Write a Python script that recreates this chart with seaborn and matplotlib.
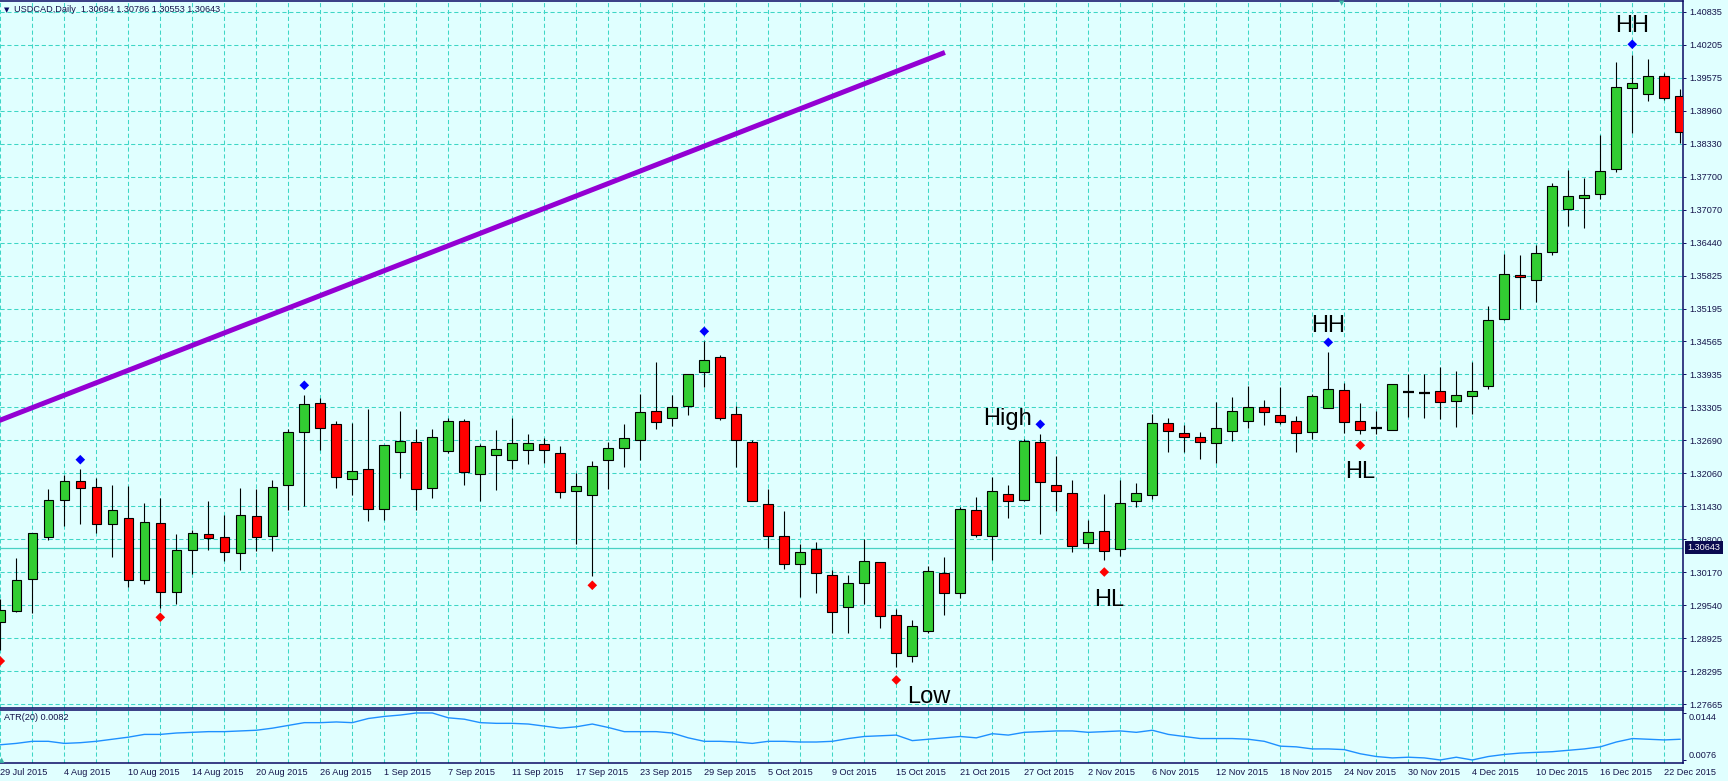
import matplotlib
matplotlib.use("Agg")
import matplotlib.pyplot as plt
import matplotlib.transforms as mtransforms
import numpy as np
import pandas as pd
import seaborn as sns

# USDCAD daily bars, 29 Jul 2015 .. 23 Dec 2015
opens = [
    1.29224, 1.29445, 1.30042, 1.30852, 1.31555, 1.31905, 1.31791, 1.31087, 1.31202, 1.30023,
    1.31107, 1.29794, 1.30593, 1.30897, 1.30840, 1.30536, 1.31240, 1.30859, 1.31829, 1.32848,
    1.33388, 1.32989, 1.31954, 1.32133, 1.31384, 1.32468, 1.32647, 1.31783, 1.32487, 1.33046,
    1.32050, 1.32411, 1.32316, 1.32506, 1.32609, 1.32438, 1.31715, 1.31639, 1.32304, 1.32533,
    1.32685, 1.33236, 1.33103, 1.33343, 1.33978, 1.34263, 1.33179, 1.32647, 1.31468, 1.30859,
    1.30327, 1.30612, 1.30118, 1.29509, 1.29966, 1.30365, 1.29357, 1.28583, 1.29053, 1.30156,
    1.29775, 1.31354, 1.30859, 1.31658, 1.31544, 1.32647, 1.31829, 1.31677, 1.30726, 1.30954,
    1.30618, 1.31525, 1.31639, 1.33008, 1.32818, 1.32742, 1.32628, 1.32856, 1.33046, 1.33312,
    1.33160, 1.33046, 1.32837, 1.33293, 1.33636, 1.33046, 1.32913, 1.32875, 1.33609, 1.33590,
    1.33616, 1.33426, 1.33521, 1.33711, 1.34986, 1.35822, 1.35727, 1.36260, 1.37077, 1.37286,
    1.37362, 1.37838, 1.39378, 1.39264, 1.39606, 1.39226]
highs = [
    1.29667, 1.30447, 1.30916, 1.31759, 1.32025, 1.32133, 1.31968, 1.31835, 1.31810, 1.31493,
    1.31588, 1.30897, 1.30979, 1.31531, 1.31259, 1.31772, 1.31759, 1.31930, 1.32894, 1.33546,
    1.33489, 1.33052, 1.33014, 1.33280, 1.32590, 1.33242, 1.32900, 1.32900, 1.33103, 1.33090,
    1.32620, 1.32881, 1.33114, 1.32805, 1.32723, 1.32576, 1.32063, 1.32291, 1.32658, 1.32995,
    1.33565, 1.34174, 1.33540, 1.33940, 1.34573, 1.34301, 1.33331, 1.32685, 1.31764, 1.31346,
    1.30707, 1.30745, 1.30213, 1.30118, 1.30802, 1.30365, 1.29477, 1.29268, 1.30300, 1.30460,
    1.31411, 1.31601, 1.31981, 1.31829, 1.32715, 1.32799, 1.32381, 1.31924, 1.31164, 1.31658,
    1.31924, 1.31867, 1.33179, 1.33103, 1.32970, 1.32837, 1.33407, 1.33502, 1.33711, 1.33445,
    1.33693, 1.33141, 1.33559, 1.34358, 1.33769, 1.33388, 1.33236, 1.33750, 1.33940, 1.33940,
    1.34073, 1.33997, 1.34168, 1.35233, 1.36222, 1.36208, 1.36393, 1.37577, 1.37824, 1.37667,
    1.38496, 1.39878, 1.40011, 1.39935, 1.39663, 1.39359]
lows = [
    1.28697, 1.29426, 1.29395, 1.30789, 1.31061, 1.31099, 1.30928, 1.30471, 1.29901, 1.29947,
    1.29502, 1.29578, 1.30148, 1.30593, 1.30395, 1.30224, 1.30585, 1.30585, 1.31359, 1.31441,
    1.32500, 1.31783, 1.31645, 1.31156, 1.31175, 1.31974, 1.31365, 1.31588, 1.32443, 1.31840,
    1.31536, 1.31745, 1.32133, 1.32240, 1.32247, 1.31588, 1.30719, 1.30104, 1.31764, 1.32183,
    1.32316, 1.32905, 1.32962, 1.33172, 1.33704, 1.33065, 1.32183, 1.31525, 1.30643, 1.30243,
    1.29711, 1.29787, 1.29015, 1.29015, 1.29566, 1.29110, 1.28374, 1.28469, 1.29015, 1.29357,
    1.29680, 1.30840, 1.30403, 1.31202, 1.31525, 1.30897, 1.31335, 1.30555, 1.30631, 1.30409,
    1.30485, 1.31411, 1.31563, 1.32457, 1.32457, 1.32323, 1.32247, 1.32666, 1.32913, 1.32970,
    1.32989, 1.32457, 1.32704, 1.33293, 1.32818, 1.32799, 1.32799, 1.32875, 1.33122, 1.33103,
    1.33084, 1.32932, 1.33179, 1.33654, 1.34963, 1.35176, 1.35320, 1.36214, 1.36765, 1.36727,
    1.37279, 1.37781, 1.38522, 1.39131, 1.39156, 1.38344]
closes = [
    1.29452, 1.30023, 1.30916, 1.31544, 1.31905, 1.31772, 1.31087, 1.31354, 1.30023, 1.31126,
    1.29794, 1.30593, 1.30916, 1.30821, 1.30555, 1.31259, 1.30840, 1.31791, 1.32837, 1.33369,
    1.32924, 1.31981, 1.32095, 1.31384, 1.32590, 1.32666, 1.31764, 1.32742, 1.33046, 1.32088,
    1.32571, 1.32514, 1.32628, 1.32628, 1.32506, 1.31696, 1.31810, 1.32190, 1.32533, 1.32723,
    1.33217, 1.33027, 1.33312, 1.33940, 1.34206, 1.33103, 1.32685, 1.31525, 1.30859, 1.30327,
    1.30555, 1.30156, 1.29414, 1.29966, 1.30384, 1.29338, 1.28640, 1.29148, 1.30194, 1.29775,
    1.31373, 1.30878, 1.31715, 1.31525, 1.32677, 1.31886, 1.31715, 1.30669, 1.30935, 1.30580,
    1.31487, 1.31677, 1.33008, 1.32856, 1.32742, 1.32647, 1.32913, 1.33236, 1.33312, 1.33217,
    1.33027, 1.32818, 1.33521, 1.33654, 1.33027, 1.32875, 1.32913, 1.33750, 1.33609, 1.33590,
    1.33407, 1.33540, 1.33616, 1.34967, 1.35841, 1.35784, 1.36241, 1.37515, 1.37324, 1.37343,
    1.37800, 1.39397, 1.39473, 1.39606, 1.39188, 1.38541]
atr20 = [
    0.0098, 0.0100, 0.0103, 0.0103, 0.0100, 0.0101, 0.0103, 0.0106, 0.0109, 0.0113,
    0.0113, 0.0115, 0.0116, 0.0117, 0.0117, 0.0118, 0.0119, 0.0122, 0.0126, 0.0130,
    0.0130, 0.0131, 0.0130, 0.0136, 0.0139, 0.0141, 0.0144, 0.0144, 0.0137, 0.0135,
    0.0130, 0.0129, 0.0129, 0.0128, 0.0125, 0.0122, 0.0124, 0.0128, 0.0123, 0.0117,
    0.0117, 0.0117, 0.0115, 0.0108, 0.0103, 0.0103, 0.0102, 0.0100, 0.0103, 0.0103,
    0.0102, 0.0102, 0.0103, 0.0107, 0.0110, 0.0111, 0.0112, 0.0104, 0.0106, 0.0108,
    0.0110, 0.0108, 0.0114, 0.0112, 0.0116, 0.0117, 0.0118, 0.0118, 0.0116, 0.0117,
    0.0118, 0.0116, 0.0119, 0.0113, 0.0110, 0.0107, 0.0107, 0.0107, 0.0106, 0.0103,
    0.0096, 0.0095, 0.0092, 0.0092, 0.0091, 0.0085, 0.0081, 0.0079, 0.0080, 0.0079,
    0.0076, 0.0080, 0.0076, 0.0081, 0.0084, 0.0086, 0.0087, 0.0088, 0.0090, 0.0092,
    0.0095, 0.0102, 0.0107, 0.0106, 0.0105, 0.0106]

# swing markers (bar index, price)
up_bars = [5, 19, 44, 65, 83, 102]
up_marks = [1.32316, 1.33731, 1.34757, 1.32989, 1.34548, 1.40215]
down_bars = [0, 10, 37, 56, 69, 85]
down_marks = [1.28488, 1.29319, 1.29928, 1.28127, 1.30180, 1.32590]

# trend line anchors (bar index, price)
trend_bars = [-1, 59.04]
trend_prices = [1.3295, 1.4006]

last_price = 1.30643
header = "USDCAD,Daily  1.30684 1.30786 1.30553 1.30643"
atr_title = "ATR(20) 0.0082"
date_labels = ["29 Jul 2015", "4 Aug 2015", "10 Aug 2015", "14 Aug 2015", "20 Aug 2015",
               "26 Aug 2015", "1 Sep 2015", "7 Sep 2015", "11 Sep 2015", "17 Sep 2015",
               "23 Sep 2015", "29 Sep 2015", "5 Oct 2015", "9 Oct 2015", "15 Oct 2015",
               "21 Oct 2015", "27 Oct 2015", "2 Nov 2015", "6 Nov 2015", "12 Nov 2015",
               "18 Nov 2015", "24 Nov 2015", "30 Nov 2015", "4 Dec 2015", "10 Dec 2015",
               "16 Dec 2015", "22 Dec 2015"]
price_labels = ["1.40835", "1.40205", "1.39575", "1.38960", "1.38330", "1.37700", "1.37070",
                "1.36440", "1.35825", "1.35195", "1.34565", "1.33935", "1.33305", "1.32690",
                "1.32060", "1.31430", "1.30800", "1.30170", "1.29540", "1.28925", "1.28295",
                "1.27665"]
atr_labels = ["0.0144", "0.0076"]

df = pd.DataFrame({"open": opens, "high": highs, "low": lows, "close": closes, "atr": atr20})
df["bar"] = np.arange(len(df))

BG = "#E0FFFF"
GRID = "#3ED6C6"
NAVY = "#0A0A64"
TXT = "#14144A"
DASH = (0, (4, 2.6))

sns.set_style("white", rc={"axes.facecolor": BG, "figure.facecolor": BG})
plt.rcParams["font.family"] = ["Liberation Sans", "DejaVu Sans"]

W, H = 1728, 781
fig = plt.figure(figsize=(W / 100, H / 100), dpi=100)
fig.patch.set_facecolor(BG)
ax = fig.add_axes([0, 1 - 708 / H, 1683 / W, 707 / H])
ax_atr = fig.add_axes([0, 1 - 763.3 / H, 1683 / W, 53.3 / H])

# candles
up = df[df.close > df.open]
dn = df[df.close < df.open]
flat = df[df.close == df.open]
ax.vlines(df.bar, df.low, df.high, color="black", lw=0.8, zorder=3)
ax.bar(up.bar, up.close - up.open, bottom=up.open, width=0.6, color="#32CD32",
       edgecolor="black", linewidth=0.8, zorder=4)
ax.bar(dn.bar, dn.open - dn.close, bottom=dn.close, width=0.6, color="#FF0000",
       edgecolor="black", linewidth=0.8, zorder=4)
ax.hlines(flat.open, flat.bar - 0.33, flat.bar + 0.33, color="black", lw=1.6, zorder=4)

sns.scatterplot(x=up_bars, y=up_marks, ax=ax, marker="D", s=24, color="#0000FF",
                edgecolor="none", zorder=5)
sns.scatterplot(x=down_bars, y=down_marks, ax=ax, marker="D", s=24, color="#FF0000",
                edgecolor="none", zorder=5)

ax.plot(trend_bars, trend_prices, color="#9400D3", lw=3.6, solid_capstyle="butt", zorder=6)
ax.axhline(last_price, color="#48D1C4", lw=0.9, zorder=2)

ann = dict(fontsize=17, color="black", textcoords="offset points", zorder=7,
           annotation_clip=False)
ax.annotate("High", xy=(65, up_marks[3]), xytext=(-6, -0.5), ha="right", va="baseline", **ann)
ax.annotate("HH", xy=(83, up_marks[4]), xytext=(0, 7.4), ha="center", va="baseline", **ann)
ax.annotate("HH", xy=(102, up_marks[5]), xytext=(0, 8.9), ha="center", va="baseline", **ann)
ax.annotate("HL", xy=(85, down_marks[5]), xytext=(0, -23.5), ha="center", va="baseline", **ann)
ax.annotate("HL", xy=(69, down_marks[4]), xytext=(3.5, -24.5), ha="center", va="baseline", **ann)
ax.annotate("Low", xy=(56, down_marks[3]), xytext=(7.7, -16.6), ha="left", va="baseline", **ann)

# main axis cosmetics
ax.set_xlim(-0.019, 105.17)
ax.set_ylim(1.275944, 1.41038)
ax.set_xticks(np.arange(0, 106, 2))
ax.set_yticks(np.linspace(1.40835, 1.27665, len(price_labels)))
ax.set_yticklabels(price_labels)
ax.yaxis.tick_right()
ax.tick_params(axis="x", bottom=False, labelbottom=False)
ax.tick_params(axis="y", direction="out", length=2.2, width=0.7, pad=2.2,
               colors=NAVY, labelcolor=TXT, labelsize=6.6)
ax.grid(True, color=GRID, lw=0.75, ls=DASH)
ax.set_axisbelow(True)
ax.set_xlabel("")
ax.set_ylabel("")
for side in ["top", "right", "bottom"]:
    ax.spines[side].set_color(NAVY)
    ax.spines[side].set_linewidth(1.1)
ax.spines["left"].set_visible(False)

trans = mtransforms.blended_transform_factory(ax.transAxes, ax.transData)
ax.annotate(f"{last_price:.5f}", xy=(1, last_price), xycoords=trans, xytext=(3.2, 0),
            textcoords="offset points", ha="left", va="center", fontsize=6.6, color="white",
            bbox=dict(boxstyle="square,pad=0.25", fc="#0A0A50", ec="none"),
            annotation_clip=False, zorder=10)

# ATR sub-window
sns.lineplot(x=df.bar, y=df.atr, ax=ax_atr, color="#1E90FF", lw=1.0)
ax_atr.set_xlim(-0.019, 105.17)
ax_atr.set_ylim(0.00712, 0.01483)
ax_atr.set_xticks(np.arange(0, 106, 4))
ax_atr.set_xticklabels(date_labels, ha="left")
ax_atr.set_xticks(np.arange(2, 106, 4), minor=True)
ax_atr.tick_params(axis="x", which="major", direction="out", length=2.2, width=0.7, pad=1.2,
                   colors=NAVY, labelcolor=TXT, labelsize=6.6)
ax_atr.tick_params(axis="x", which="minor", length=0)
ax_atr.set_yticks([0.0144, 0.0076])
ax_atr.set_yticklabels(atr_labels)
ax_atr.yaxis.tick_right()
ax_atr.tick_params(axis="y", direction="out", length=2.2, width=0.7, pad=2.2,
                   colors=NAVY, labelcolor=TXT, labelsize=6.6)
for lbl, va in zip(ax_atr.get_yticklabels(), ["top", "bottom"]):
    lbl.set_va(va)
ax_atr.grid(True, axis="x", which="both", color=GRID, lw=0.75, ls=DASH)
ax_atr.set_axisbelow(True)
ax_atr.set_xlabel("")
ax_atr.set_ylabel("")
for side in ["top", "right", "bottom"]:
    ax_atr.spines[side].set_color(NAVY)
    ax_atr.spines[side].set_linewidth(1.1)
ax_atr.spines["left"].set_visible(False)

fig.text(4 / W, 1 - 10 / H, "\u25bc", fontsize=5, color=NAVY, va="center",
         family=["DejaVu Sans"])
fig.text(14 / W, 1 - 10 / H, header, fontsize=6.6, color=TXT, va="center")
fig.text(4 / W, 1 - 718 / H, atr_title, fontsize=6.6, color=TXT, va="center")

# chart-shift markers of the terminal (small teal triangles at the edges)
fig.text(1342 / W, 1 - 3 / H, "\u25bc", fontsize=5, color="#3CB8A8", ha="center",
         va="center", family=["DejaVu Sans"])
fig.text(2 / W, 1 - 760 / H, "\u25b2", fontsize=5, color="#3CB8A8", ha="center",
         va="center", family=["DejaVu Sans"])

fig.savefig("out.png", dpi=100, facecolor=BG)
